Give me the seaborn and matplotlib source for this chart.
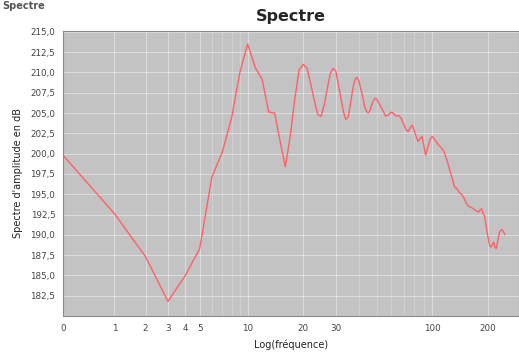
import numpy as np
import pandas as pd
import matplotlib
matplotlib.use("Agg")
import matplotlib.pyplot as plt
import seaborn as sns
from matplotlib.ticker import FixedLocator, FuncFormatter

# ---- data ----
freq = [0, 1, 2, 3, 4, 5, 6, 7, 8, 9, 10, 11, 12, 13, 14, 15, 16, 17, 18, 19, 20,
        21, 22, 23, 24, 25, 26, 27, 28, 29, 30, 31, 32, 33, 34, 35, 36, 37, 38, 39, 40,
        41, 42, 43, 44, 45, 46, 47, 48, 49, 50, 52, 54, 56, 58, 60, 62, 64, 66, 68, 70,
        72, 74, 76, 78, 80, 82, 84, 86, 88, 90, 92, 94, 96, 98, 100, 104, 108, 112, 116,
        120, 124, 128, 132, 136, 140, 144, 148, 152, 157, 162, 167, 172, 178, 182, 185,
        188, 192, 196, 200, 205, 209, 212, 215, 218, 222, 226, 231, 236, 240, 244, 248]
spectre_db = [199.8, 192.6, 187.3, 181.8, 185.0, 188.3, 197.1, 200.2, 204.5, 210.1, 213.5,
              210.6, 209.1, 205.1, 205.0, 201.5, 198.4, 202.1, 206.7, 210.3, 211.0,
              210.5, 208.5, 206.5, 204.8, 204.6, 206.0, 208.0, 209.8, 210.5, 210.2,
              208.5, 206.8, 205.2, 204.2, 204.5, 206.0, 207.8, 209.0, 209.4, 209.0,
              208.0, 207.0, 205.8, 205.2, 205.0, 205.3, 206.0, 206.5, 206.8, 206.7,
              206.0, 205.3, 204.6, 204.8, 205.1, 204.9, 204.6, 204.7, 204.3, 203.6,
              203.0, 202.7, 203.2, 203.5, 202.8, 202.0, 201.5, 201.9, 202.1, 201.0,
              199.8, 200.5, 201.3, 201.9, 202.1, 201.6, 201.1, 200.7, 200.2,
              199.2, 198.1, 197.0, 195.9, 195.7, 195.2, 195.0, 194.6, 194.0, 193.5,
              193.4, 193.2, 193.0, 192.8, 193.1, 193.2, 192.7, 192.3, 191.0, 189.8,
              188.6, 188.5, 188.9, 189.1, 188.5, 188.3, 189.2, 190.3, 190.6, 190.6,
              190.3, 190.0]

x_major_ticks = [0, 1, 2, 3, 4, 5, 10, 20, 30, 100, 200]
x_minor_ticks = [6, 7, 8, 9, 40, 50, 60, 70, 80, 90]
y_ticks = [182.5, 185.0, 187.5, 190.0, 192.5, 195.0, 197.5, 200.0, 202.5, 205.0,
           207.5, 210.0, 212.5, 215.0]

df = pd.DataFrame({"freq": freq, "db": spectre_db})

# JFreeChart-style "adjusted log10" scale
def fwd(x):
    x = np.asarray(x, dtype=float)
    a = np.where(x < 10, 0.9 * x + 1.0, x)
    return np.log10(np.maximum(a, 1e-9))

def inv(y):
    y = np.asarray(y, dtype=float)
    return np.where(y < 1, (10.0 ** y - 1.0) / 0.9, 10.0 ** y)

sns.set_style("white")
plt.rcParams["font.family"] = ["DejaVu Sans"]

fig = plt.figure(figsize=(5.19, 3.54), dpi=100)
ax = fig.add_axes([63 / 519, 38 / 354, 1 - 63 / 519, (316 - 31) / 354])
ax.set_facecolor("#c3c3c3")

ax.set_xscale("function", functions=(fwd, inv))
ax.set_xlim(0, 295)
ax.set_ylim(180, 215.1)

ax.xaxis.set_major_locator(FixedLocator(x_major_ticks))
ax.xaxis.set_minor_locator(FixedLocator(x_minor_ticks))
ax.xaxis.set_major_formatter(FuncFormatter(lambda v, p: f"{v:g}"))
ax.xaxis.set_minor_formatter(FuncFormatter(lambda v, p: ""))
ax.yaxis.set_major_locator(FixedLocator(y_ticks))
ax.yaxis.set_major_formatter(FuncFormatter(lambda v, p: f"{v:.1f}".replace(".", ",")))

ax.grid(True, which="major", color="white", linewidth=0.6, alpha=0.5)
ax.grid(True, which="minor", axis="x", color="white", linewidth=0.5, alpha=0.35)
ax.set_axisbelow(True)

sns.lineplot(data=df, x="freq", y="db", ax=ax, color="#ff6068", linewidth=1.0,
             estimator=None, sort=False)

ax.tick_params(axis="both", which="major", labelsize=6.3, colors="#444444",
               length=2.5, width=0.6, direction="out", pad=3)
ax.tick_params(axis="x", which="minor", length=2, width=0.5, color="#666666", direction="out")
for s in ax.spines.values():
    s.set_color("#8a8a8a")
    s.set_linewidth(0.8)

ax.set_title("Spectre", fontsize=11.5, fontweight="bold", pad=7)
ax.set_xlabel("Log(fréquence)", fontsize=7, color="#222222", labelpad=5)
ax.set_ylabel("Spectre d'amplitude en dB", fontsize=7, color="#222222", labelpad=5)

fig.text(0.004, 0.998, "Spectre", fontsize=7, fontweight="bold", color="#555555",
         ha="left", va="top")

fig.savefig("out.png", dpi=100)
